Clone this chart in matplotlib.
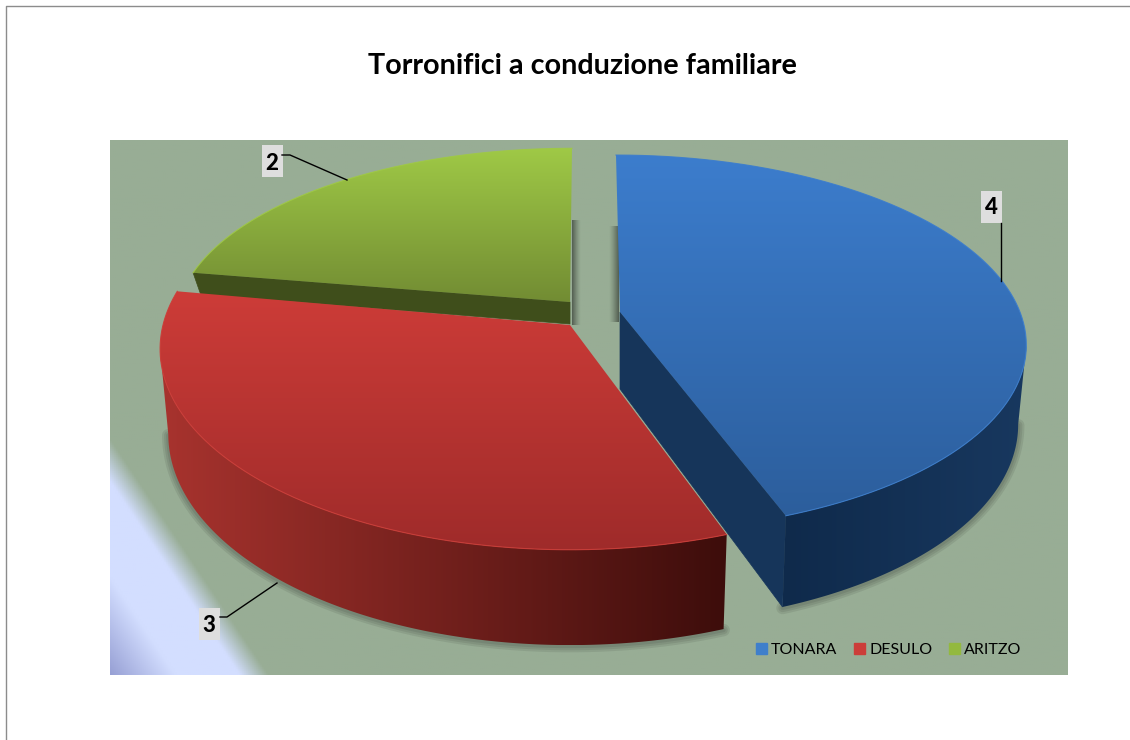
import numpy as np
import matplotlib
matplotlib.use('Agg')
import matplotlib.pyplot as plt
from matplotlib.colors import LinearSegmentedColormap
from matplotlib.patches import Polygon, Rectangle, Patch

plt.rcParams['font.family'] = ['Lato', 'DejaVu Sans']

title = "Torronifici a conduzione familiare"
categories = ["TONARA", "DESULO", "ARITZO"]
values = [4, 3, 2]
legend_colors = ["#3F7FCB", "#CC3D39", "#93B93F"]

# look of each slice in the fake 3d view, in pixels
centers = [(620, 312), (570, 325), (570, 302)]
radius_x = [400, 407, 391]
radius_y = [183, 198, 172]
persp = [0.166, 0.119, 0.119]
skew = [-4, 0, 2]
depth = [77, 84, 22]
top_cols = [("#3C7DCD", "#2C5E9C"), ("#CD3C38", "#9F2B2A"), ("#9FC946", "#728C33")]
side_cols = [("#0F2A4B", "#18385F"), ("#A8332E", "#3D0D0B")]
cut_cols = ["#16355A", None, "#3F4E1B"]
cut_end = [-1, None, 0]
draw_z = {2: 3, 0: 4, 1: 5}

fig = plt.figure(figsize=(11.3, 7.4), dpi=100)
ax = fig.add_axes([0, 0, 1, 1])


def project(i, theta):
    X = np.sin(theta)
    Y = np.cos(theta)
    f = 1 / (1 + persp[i] * Y)
    x = centers[i][0] + radius_x[i] * X * f + skew[i] * Y
    y = centers[i][1] - radius_y[i] * Y * f
    return x, y, f


def lower(i, x, y, f):
    return centers[i][0] + (x - centers[i][0]) * 0.98, y + depth[i] * f


def grad_fill(pts, c0, c1, horizontal=False, zorder=3):
    pts = np.array(pts)
    cmap = LinearSegmentedColormap.from_list('g', [c0, c1])
    g = np.linspace(0, 1, 256)
    img = g[None, :] if horizontal else g[:, None]
    x0, y0 = pts.min(axis=0)
    x1, y1 = pts.max(axis=0)
    im = ax.imshow(img, cmap=cmap, extent=(x0, x1, y1, y0), aspect='auto',
                   vmin=0, vmax=1, zorder=zorder, interpolation='bilinear')
    clip = Polygon(pts, closed=True, transform=ax.transData, fc='none', ec='none')
    ax.add_patch(clip)
    im.set_clip_path(clip)


def side_shadow(x0, x1, y0, y1):
    # dark at x0, fading out towards x1
    rgba = np.zeros((1, 64, 4))
    rgba[0, :, 3] = np.linspace(0.55, 0, 64) ** 1.3
    left, right = min(x0, x1), max(x0, x1)
    if x1 < x0:
        rgba = rgba[:, ::-1]
    ax.imshow(rgba, extent=(left, right, y1, y0), aspect='auto', zorder=2, interpolation='bilinear')


# plot area background, with the pale band in the lower left corner
px0, px1, py0, py1 = 110, 1068, 140, 675
xx, yy = np.meshgrid(np.linspace(px0, px1, 480), np.linspace(py0, py1, 270))
dist = ((xx - 111) * 212 - (yy - 463) * 142) / np.hypot(212, 142)
bg = np.array([152, 173, 149]) / 255
pale = np.array([211, 222, 255]) / 255
deep = np.array([128, 136, 196]) / 255
a = np.clip((dist + 12) / 24, 0, 1)[..., None]
b = np.clip((-dist - 65) / 75, 0, 1)[..., None]
rgb = bg * a + (pale * (1 - b) + deep * b) * (1 - a)
ax.imshow(rgb, extent=(px0, px1, py1, py0), aspect='auto', zorder=1)

side_shadow(572, 581, 220, 325)
side_shadow(619, 609, 226, 322)

# slices, back to front
angles = np.cumsum([0] + values) / sum(values) * 2 * np.pi
for i in [2, 0, 1]:
    th = np.linspace(angles[i], angles[i + 1], 300)
    x, y, f = project(i, th)
    bx, by = lower(i, x, y, f)
    cx, cy = centers[i]
    bcy = cy + depth[i]
    top = [(cx, cy)] + list(zip(x, y))
    z = draw_z[i]

    # only the rim in front of the widest point shows a wall
    if i == 0:
        keep = np.arange(len(x)) >= np.argmax(x)
    else:
        keep = np.arange(len(x)) <= np.argmin(x)

    if i != 2:
        for w in (9, 6, 3):
            ax.plot(bx[keep], by[keep] + 1, color='black', alpha=0.08, lw=w, zorder=2.5, solid_capstyle='round')
        wall = list(zip(x[keep], y[keep])) + list(zip(bx[keep][::-1], by[keep][::-1]))
        grad_fill(wall, side_cols[i][0], side_cols[i][1], horizontal=True, zorder=z + 0.1)

    if cut_end[i] is not None:
        k = cut_end[i]
        cut = [(cx, cy), (x[k], y[k]), (bx[k], by[k]), (cx, bcy)]
        ax.add_patch(Polygon(cut, closed=True, fc=cut_cols[i], ec=cut_cols[i], lw=0.5, zorder=z))

    grad_fill(top, top_cols[i][0], top_cols[i][1], zorder=z + 0.2)
    ax.plot(x, y, color=top_cols[i][0], lw=0.8, alpha=0.9, zorder=z + 0.3)

# value labels and their leader lines
label_pos = [(991, 207), (209, 624), (272, 161)]
text_shift = [0, 1, 2]
leaders = [[(1001, 223), (1001, 281)], [(220, 617), (227, 617), (277, 583)], [(282, 155), (290, 155), (347, 180)]]
for val, (lx, ly), dy, line in zip(values, label_pos, text_shift, leaders):
    ax.add_patch(Rectangle((lx - 10.5, ly - 16), 21, 32, fc="#DEDEDE", ec='none', zorder=8))
    ax.text(lx, ly + dy, str(val), ha='center', va='center', fontsize=16, fontweight='black', color='black', zorder=9)
    lxs, lys = zip(*line)
    ax.plot(lxs, lys, color='black', lw=1, zorder=8)

# page frame
ax.plot([1130, 5.5, 5.5], [5.5, 5.5, 740], color="#8C8C8C", lw=1, zorder=1)

ax.text(582.5, 65.5, title, ha='center', va='center', fontsize=20.7, fontweight='bold', color='black')

handles = [Patch(fc=c, ec=c) for c in legend_colors]
ax.legend(handles, categories, ncol=3, loc='center', bbox_to_anchor=(888.5, 650),
          bbox_transform=ax.transData, frameon=False, fontsize=11.5, handlelength=0.7,
          handleheight=0.7, handletextpad=0.25, columnspacing=1.05, labelcolor='black').set_zorder(10)

ax.set_xlim(0, 1130)
ax.set_ylim(740, 0)
ax.axis('off')
fig.savefig("out.png", dpi=100)
